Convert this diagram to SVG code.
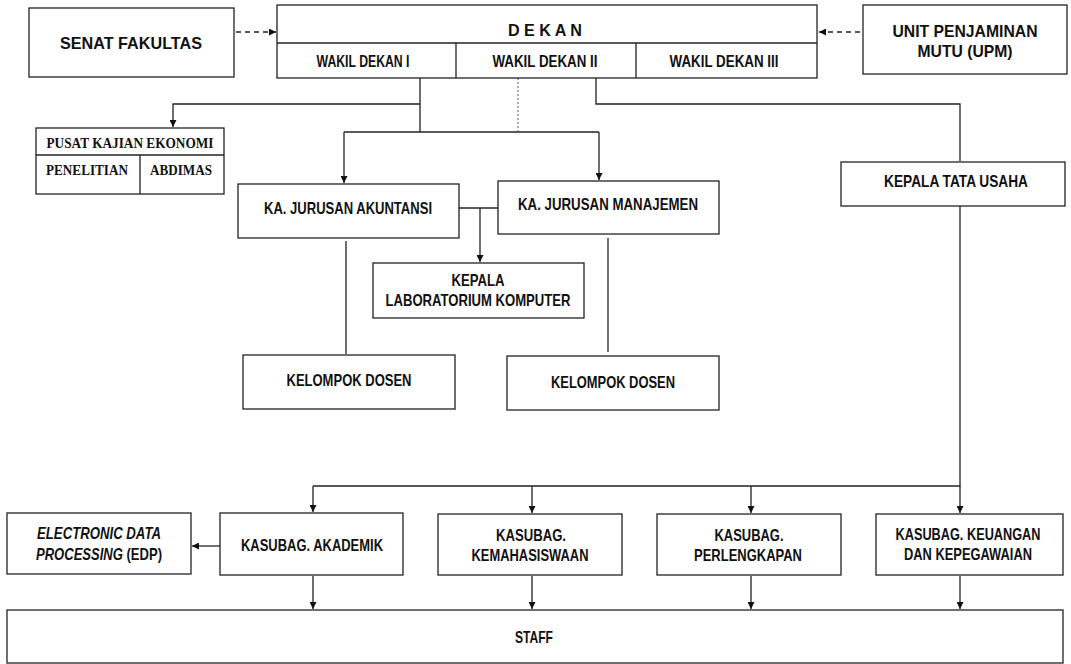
<svg xmlns="http://www.w3.org/2000/svg" width="1071" height="664" viewBox="0 0 1071 664">
<style>
.b{fill:#fff;stroke:#222;stroke-width:1.3}
.t{font-family:"Liberation Sans Narrow","Liberation Sans",Arial,sans-serif;font-weight:bold;fill:#111;text-anchor:middle;font-size:16.5px}
.s{font-family:"Liberation Serif","Times New Roman",serif;font-weight:bold;fill:#111;text-anchor:middle;font-size:14px}
.c{fill:none;stroke:#222;stroke-width:1.3}
.d{fill:none;stroke:#222;stroke-width:1.3;stroke-dasharray:5,4}
.o{fill:none;stroke:#555;stroke-width:1;stroke-dasharray:2,2}
</style>
<defs>
<marker id="ar" viewBox="0 0 10 10" refX="10" refY="5" markerWidth="7" markerHeight="7" markerUnits="userSpaceOnUse" orient="auto"><path d="M0,0 L10,5 L0,10 z" fill="#111"/></marker>
</defs>
<rect width="1071" height="664" fill="#fff"/>
<g id="connectors">
<path class="d" d="M236,32 H276" marker-end="url(#ar)"/>
<path class="d" d="M860,32 H819" marker-end="url(#ar)"/>
<path class="c" d="M420,78 V132"/>
<path class="c" d="M420,104 H173 V127" marker-end="url(#ar)"/>
<path class="c" d="M344,132 H599"/>
<path class="c" d="M344,132 V183" marker-end="url(#ar)"/>
<path class="c" d="M599,132 V180" marker-end="url(#ar)"/>
<path class="o" d="M518,78 V132"/>
<path class="c" d="M596,78 V104 H960 V161"/>
<path class="c" d="M459,208 H498"/>
<path class="c" d="M480,208 V262" marker-end="url(#ar)"/>
<path class="c" d="M346,241 V354"/>
<path class="c" d="M608,238 V352"/>
<path class="c" d="M960,206 V486 H313"/>
<path class="c" d="M313,486 V512" marker-end="url(#ar)"/>
<path class="c" d="M532,486 V513" marker-end="url(#ar)"/>
<path class="c" d="M751,486 V513" marker-end="url(#ar)"/>
<path class="c" d="M960,486 V513" marker-end="url(#ar)"/>
<path class="c" d="M220,546 H192" marker-end="url(#ar)"/>
<path class="c" d="M313,576 V609" marker-end="url(#ar)"/>
<path class="c" d="M532,576 V609" marker-end="url(#ar)"/>
<path class="c" d="M751,576 V609" marker-end="url(#ar)"/>
<path class="c" d="M960,576 V609" marker-end="url(#ar)"/>
</g>
<g id="senat">
<rect class="b" x="29" y="8" width="205" height="69"/>
<text class="t" x="131" y="49" font-size="19" textLength="142" lengthAdjust="spacingAndGlyphs">SENAT FAKULTAS</text>
</g>
<g id="dekan">
<rect class="b" x="277" y="5" width="540" height="73"/>
<line class="c" x1="277" y1="43" x2="817" y2="43"/>
<line class="c" x1="456" y1="43" x2="456" y2="78"/>
<line class="c" x1="636" y1="43" x2="636" y2="78"/>
<text class="t" x="545" y="36" font-size="17" textLength="74" lengthAdjust="spacingAndGlyphs">D E K A N</text>
<text class="t" x="363" y="67" textLength="93" lengthAdjust="spacingAndGlyphs">WAKIL DEKAN  I</text>
<text class="t" x="545" y="67" textLength="105" lengthAdjust="spacingAndGlyphs">WAKIL DEKAN  II</text>
<text class="t" x="724" y="67" textLength="109" lengthAdjust="spacingAndGlyphs">WAKIL DEKAN  III</text>
</g>
<g id="upm">
<rect class="b" x="863" y="5" width="204" height="69"/>
<text class="t" x="965" y="37" font-size="18" textLength="145" lengthAdjust="spacingAndGlyphs">UNIT PENJAMINAN</text>
<text class="t" x="965" y="57" font-size="18" textLength="95" lengthAdjust="spacingAndGlyphs">MUTU (UPM)</text>
</g>
<g id="pke">
<rect class="b" x="36" y="128" width="188" height="66"/>
<line class="c" x1="36" y1="155" x2="224" y2="155"/>
<line class="c" x1="140" y1="155" x2="140" y2="194"/>
<text class="s" x="130" y="148" textLength="167" lengthAdjust="spacingAndGlyphs">PUSAT KAJIAN EKONOMI</text>
<text class="s" x="87" y="175" textLength="82" lengthAdjust="spacingAndGlyphs">PENELITIAN</text>
<text class="s" x="181" y="175" textLength="62" lengthAdjust="spacingAndGlyphs">ABDIMAS</text>
</g>
<g id="akuntansi">
<rect class="b" x="238" y="184" width="221" height="54"/>
<text class="t" x="348" y="214" textLength="168" lengthAdjust="spacingAndGlyphs">KA. JURUSAN AKUNTANSI</text>
</g>
<g id="manajemen">
<rect class="b" x="498" y="181" width="221" height="53"/>
<text class="t" x="608" y="210" textLength="180" lengthAdjust="spacingAndGlyphs">KA. JURUSAN  MANAJEMEN</text>
</g>
<g id="lab">
<rect class="b" x="373" y="263" width="211" height="55"/>
<text class="t" x="478" y="286" textLength="53" lengthAdjust="spacingAndGlyphs">KEPALA</text>
<text class="t" x="478" y="306" textLength="185" lengthAdjust="spacingAndGlyphs">LABORATORIUM KOMPUTER</text>
</g>
<g id="tatausaha">
<rect class="b" x="841" y="162" width="224" height="44"/>
<text class="t" x="956" y="187" textLength="144" lengthAdjust="spacingAndGlyphs">KEPALA TATA USAHA</text>
</g>
<g id="dosen1">
<rect class="b" x="243" y="355" width="212" height="54"/>
<text class="t" x="349" y="386" textLength="125" lengthAdjust="spacingAndGlyphs">KELOMPOK DOSEN</text>
</g>
<g id="dosen2">
<rect class="b" x="507" y="356" width="212" height="54"/>
<text class="t" x="613" y="388" textLength="124" lengthAdjust="spacingAndGlyphs">KELOMPOK DOSEN</text>
</g>
<g id="edp">
<rect class="b" x="7" y="513" width="184" height="61"/>
<text class="t" x="99" y="539" font-size="16" font-style="italic" textLength="124" lengthAdjust="spacingAndGlyphs">ELECTRONIC DATA</text>
<text class="t" x="99" y="560" font-size="16" textLength="126" lengthAdjust="spacingAndGlyphs"><tspan font-style="italic">PROCESSING</tspan> (EDP)</text>
</g>
<g id="akademik">
<rect class="b" x="220" y="513" width="183" height="62"/>
<text class="t" x="312" y="551" textLength="142" lengthAdjust="spacingAndGlyphs">KASUBAG. AKADEMIK</text>
</g>
<g id="kemahasiswaan">
<rect class="b" x="438" y="514" width="184" height="61"/>
<text class="t" x="531" y="541" textLength="70" lengthAdjust="spacingAndGlyphs">KASUBAG.</text>
<text class="t" x="530" y="561" textLength="117" lengthAdjust="spacingAndGlyphs">KEMAHASISWAAN</text>
</g>
<g id="perlengkapan">
<rect class="b" x="657" y="514" width="184" height="61"/>
<text class="t" x="749" y="541" textLength="69" lengthAdjust="spacingAndGlyphs">KASUBAG.</text>
<text class="t" x="748" y="561" textLength="108" lengthAdjust="spacingAndGlyphs">PERLENGKAPAN</text>
</g>
<g id="keuangan">
<rect class="b" x="876" y="514" width="187" height="61"/>
<text class="t" x="968" y="540" font-size="16" textLength="145" lengthAdjust="spacingAndGlyphs">KASUBAG. KEUANGAN</text>
<text class="t" x="968" y="560" font-size="16" textLength="128" lengthAdjust="spacingAndGlyphs">DAN KEPEGAWAIAN</text>
</g>
<g id="staff">
<rect class="b" x="7" y="610" width="1056" height="53"/>
<text class="t" x="534" y="643" textLength="38" lengthAdjust="spacingAndGlyphs">STAFF</text>
</g>
</svg>
